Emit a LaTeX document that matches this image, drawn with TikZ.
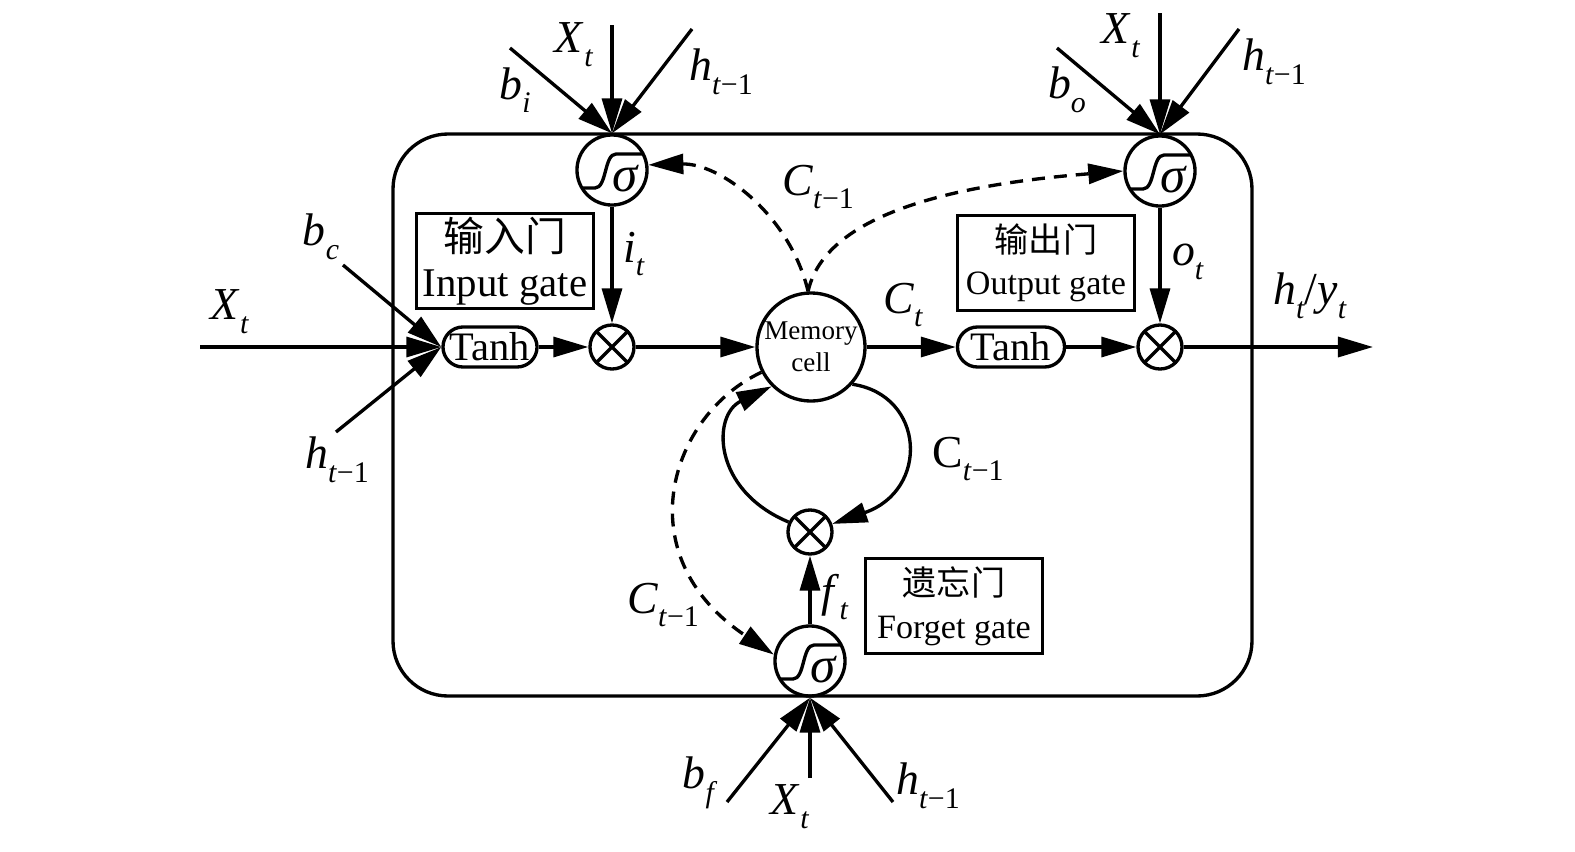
\documentclass[tikz,border=0pt]{standalone}
\usepackage{fontspec}
\setmainfont{Liberation Serif}
\newfontfamily\cjk{Noto Sans CJK SC}
\usetikzlibrary{arrows.meta}

\newcommand{\vsub}[2]{\textit{#1}\raisebox{-0.3em}{\fontsize{8.5}{8.5}\selectfont #2}}

\begin{document}
\begin{tikzpicture}[x=0.01cm, y=-0.01cm, line width=0.95pt,
    sig/.style={circle, draw, minimum size=7mm, inner sep=0pt,
        path picture={
            \draw[shift={(path picture bounding box.center)}] (-36,18) -- (-17,18)
                .. controls (-5,18) and (-8,-16) .. (4,-16) -- (36,-16);
            \node[font=\fontsize{14.5}{14.5}\selectfont, inner sep=0pt]
                at ([shift={(14,9)}]path picture bounding box.center) {\textit{σ}};
        }},
    mult/.style={circle, draw, minimum size=4.4mm, inner sep=0pt,
        path picture={
            \draw (path picture bounding box.north west) -- (path picture bounding box.south east)
                  (path picture bounding box.north east) -- (path picture bounding box.south west);
        }},
    cell/.style={circle, draw, minimum size=10.8mm, inner sep=0pt, align=center, font=\fontsize{7.7}{9.2}\selectfont},
    tanhbox/.style={rectangle, draw, rounded corners=2mm, inner sep=0pt, minimum height=4mm, font=\fontsize{11.5}{12}\selectfont},
    gatebox/.style={rectangle, draw, align=center, inner sep=0pt, minimum width=17.7mm, minimum height=9.5mm},
    lbl/.style={font=\fontsize{13}{15}\selectfont, inner sep=0pt},
    arrow/.style={-{Triangle[length=3.5mm, width=2mm]}},
    dasharrow/.style={arrow, dash pattern=on 1.3mm off 0.9mm}
]
\useasboundingbox (0,0) rectangle (1575,851);

% cell frame
\draw[rounded corners=5.5mm] (393,134) rectangle (1252,696);

% gates and operators
\node[sig]  (sigI) at (612,170) {};
\node[sig]  (sigO) at (1160,171) {};
\node[sig]  (sigF) at (810,661) {};
\node[mult] (mulI) at (612,347) {};
\node[mult] (mulO) at (1160,347) {};
\node[mult] (mulF) at (810,532) {};
\node[cell] (mem)  at (811,347) {Memory\\cell};
\node[tanhbox, minimum width=9.4mm]  (tanhI) at (490,347) {Tanh};
\node[tanhbox, minimum width=10.7mm] (tanhO) at (1011,347) {Tanh};

\node[gatebox, font=\fontsize{11.6}{12.8}\selectfont] (inGate)  at (505,261) {{\cjk 输入门}\\Input gate};
\node[gatebox, font=\fontsize{9.7}{12}\selectfont]    (outGate) at (1046,263) {{\cjk 输出门}\\Output gate};
\node[gatebox, font=\fontsize{9.7}{12.2}\selectfont]  (fgGate)  at (954,606) {{\cjk 遗忘门}\\Forget gate};

% free ends
\coordinate (xIn)  at (200,347);
\coordinate (bcIn) at (343,265);
\coordinate (hcIn) at (336,432);
\coordinate (xI)   at (612,25);
\coordinate (bI)   at (510,48);
\coordinate (hI)   at (692,29);
\coordinate (xO)   at (1160,13);
\coordinate (bO)   at (1057,48);
\coordinate (hO)   at (1239,29);
\coordinate (xF)   at (810,778);
\coordinate (bF)   at (727,802);
\coordinate (hF)   at (893,802);
\coordinate (out)  at (1373,347);

% inputs
\draw[arrow] (xIn) -- (tanhI.west);
\draw[arrow] (bcIn) -- (tanhI.west);
\draw[arrow] (hcIn) -- (tanhI.west);
\draw[arrow] (xI) -- (sigI.north);
\draw[arrow] (bI) -- (sigI.north);
\draw[arrow] (hI) -- (sigI.north);
\draw[arrow] (xO) -- (sigO.north);
\draw[arrow] (bO) -- (sigO.north);
\draw[arrow] (hO) -- (sigO.north);
\draw[arrow] (xF) -- (sigF.south);
\draw[arrow] (bF) -- (sigF.south);
\draw[arrow] (hF) -- (sigF.south);

% main line
\draw[arrow] (tanhI) -- (mulI);
\draw[arrow] (mulI) -- (mem);
\draw[arrow] (mem) -- (tanhO);
\draw[arrow] (tanhO) -- (mulO);
\draw[arrow] (mulO) -- (out);
\draw[arrow] (sigI) -- (mulI);
\draw[arrow] (sigO) -- (mulO);
\draw[arrow] (sigF) -- (mulF);

% memory loop
\draw[arrow] (mem.-42) .. controls (925,395) and (930,490) .. (mulF.20);
\draw[arrow] (mulF.155) .. controls (712,490) and (712,415) .. (mem.-135);

% peepholes
\draw[dasharrow] (mem.93) .. controls (790,215) and (720,163) .. (sigI.8);
\draw[dasharrow] (mem.93) .. controls (825,215) and (950,185) .. (sigO.west);
\draw[dasharrow] (mem.-153) .. controls (670,415) and (625,555) .. (sigF.170);

% labels
\node[lbl] (lxIn) at (230,312)  {\vsub{X}{\textit{t}}};
\node[lbl] (lbc)  at (321,237)  {\vsub{b}{\textit{c}}};
\node[lbl] (lhc)  at (337,460)  {\vsub{h}{\textit{t}−1}};
\node[lbl] (lxI)  at (574,45)   {\vsub{X}{\textit{t}}};
\node[lbl] (lbI)  at (515,90)   {\vsub{b}{\textit{i}}};
\node[lbl] (lhI)  at (721,72)   {\vsub{h}{\textit{t}−1}};
\node[lbl] (lxO)  at (1121,36)  {\vsub{X}{\textit{t}}};
\node[lbl] (lbO)  at (1067,90)  {\vsub{b}{\textit{o}}};
\node[lbl] (lhO)  at (1274,62)  {\vsub{h}{\textit{t}−1}};
\node[lbl] (lbF)  at (700,783)  {\vsub{b}{\textit{f}}};
\node[lbl] (lxF)  at (790,807)  {\vsub{X}{\textit{t}}};
\node[lbl] (lhF)  at (928,786)  {\vsub{h}{\textit{t}−1}};
\node[lbl] (lit)  at (634,254)  {\vsub{i}{\textit{t}}};
\node[lbl] (lot)  at (1188,262) {\vsub{o}{\textit{t}}};
\node[lbl] (lft)  at (835,597)  {\vsub{f}{\textit{t}}};
\node[lbl] (lct)  at (903,305)  {\vsub{C}{\textit{t}}};
\node[lbl] (lcA)  at (818,187)  {\vsub{C}{\textit{t}−1}};
\node[lbl] (lcB)  at (968,459)  {C\raisebox{-0.3em}{\fontsize{8.5}{8.5}\selectfont\textit{t}−1}};
\node[lbl] (lcC)  at (663,605)  {\vsub{C}{\textit{t}−1}};
\node[lbl] (lout) at (1310,296) {\textit{h}\raisebox{-0.3em}{\fontsize{8.5}{8.5}\selectfont\textit{t}}/\vsub{y}{\textit{t}}};

\end{tikzpicture}
\end{document}
